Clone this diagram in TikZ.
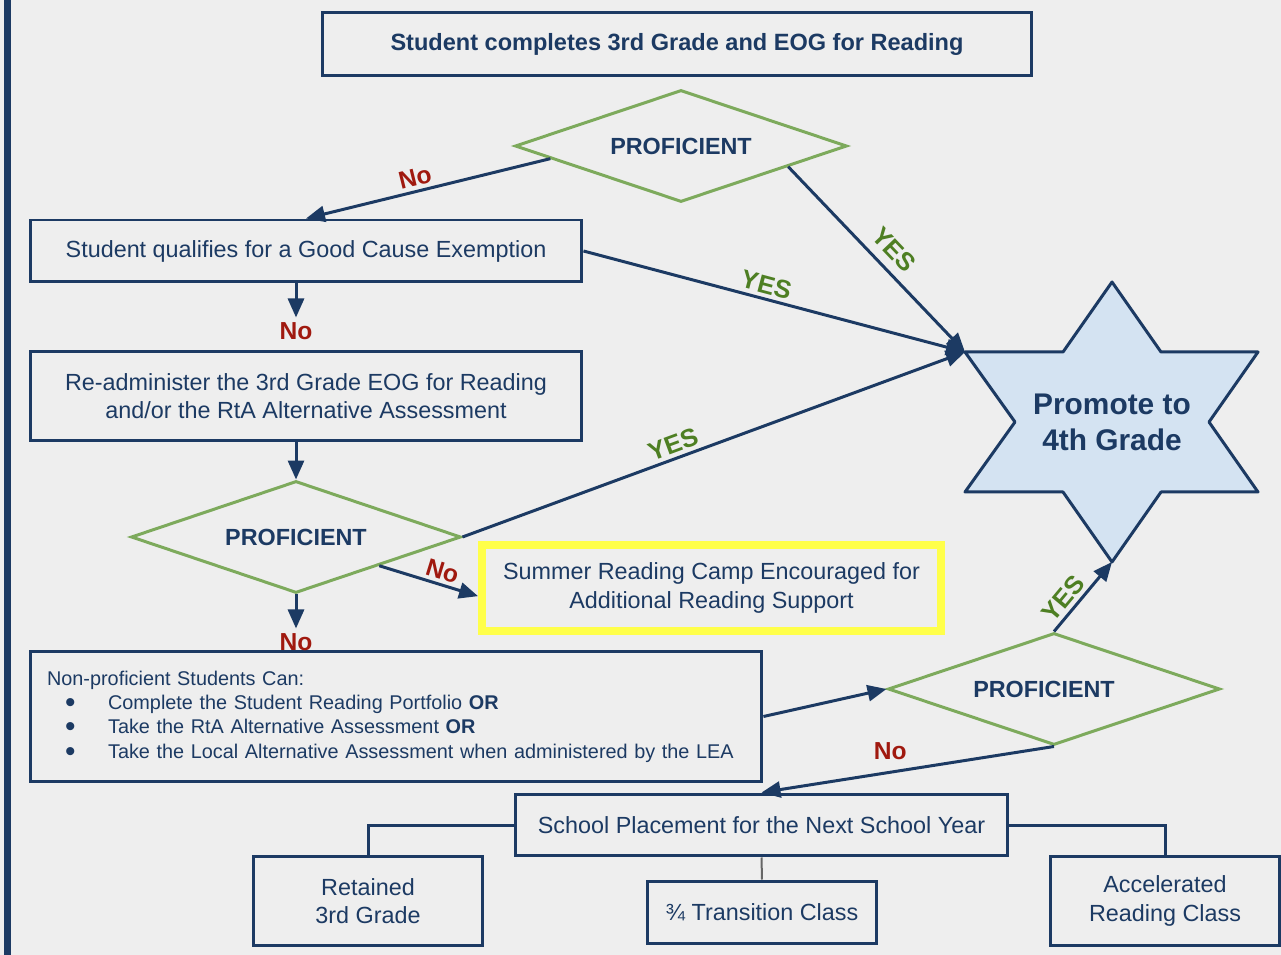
\documentclass[tikz,border=0pt]{standalone}
\usepackage{fontspec}
\setmainfont{Liberation Sans}
\usetikzlibrary{shapes.geometric, arrows.meta, positioning, calc}
\definecolor{pagebg}{HTML}{EEEEEE}
\definecolor{gsnavy}{HTML}{1C3A63}
\definecolor{gsgreen}{HTML}{7DAA5C}
\definecolor{yesgreen}{HTML}{4E7F23}
\definecolor{nored}{HTML}{A0190F}
\definecolor{starfill}{HTML}{D4E3F2}
\definecolor{campyellow}{HTML}{FFFF4A}
\definecolor{linkgray}{HTML}{666666}
\newcommand{\boxfont}{\fontsize{13.3}{16}\selectfont}
\newcommand{\npitem}[1]{\hspace*{0.36cm}\makebox[0.86cm][l]{\raisebox{-0.3ex}{\fontsize{17}{13.9}\selectfont\textbullet}}#1}
\tikzset{
  flowbox/.style={draw=gsnavy, line width=0.06cm, text=gsnavy, font=\boxfont, align=center, inner sep=0pt},
  decision/.style={diamond, aspect=3, draw=gsgreen, line width=0.06cm, text=gsnavy, font=\boxfont\bfseries,
    minimum width=6.64cm, minimum height=2.24cm, inner sep=0pt},
  flowarrow/.style={draw=gsnavy, line width=0.06cm, -{Triangle[length=0.38cm,width=0.32cm]}},
  connector/.style={draw=gsnavy, line width=0.06cm},
  nolabel/.style={text=nored, font=\fontsize{14}{16}\selectfont\bfseries, inner sep=2pt},
  yeslabel/.style={text=yesgreen, font=\fontsize{14.5}{16}\selectfont\bfseries, inner sep=2pt}
}
\begin{document}
\begin{tikzpicture}[x=0.02cm, y=-0.02cm]
\useasboundingbox (0,0) rectangle (1281,955);
\fill[pagebg] (0,0) rectangle (1281,955);
\fill[gsnavy] (4,0) rectangle (11,955);

% promote star
\draw[connector, fill=starfill, line join=round] (1112,282) -- (1161,352) -- (1258,352) -- (1209,422)
  -- (1258,492) -- (1161,492) -- (1112,562) -- (1063,492) -- (965,492) -- (1015,422)
  -- (965,352) -- (1063,352) -- cycle;
\coordinate (starUL) at (965,352);
\coordinate (starS) at (1112,562);
\node[text=gsnavy, font=\fontsize{17}{20.4}\selectfont\bfseries, align=center] (promote) at (1112,422) {Promote to\\4th Grade};

% boxes and decisions
\node[flowbox, font=\fontsize{13.4}{16}\selectfont\bfseries, minimum width=14.2cm, minimum height=1.26cm] (title) at (677,44.5) {Student completes 3rd Grade and EOG for Reading};
\node[decision] (d1) at (681,146) {PROFICIENT};
\node[flowbox, minimum width=11.04cm, minimum height=1.24cm] (gce) at (306,251) {Student qualifies for a Good Cause Exemption};
\node[flowbox, minimum width=11.04cm, minimum height=1.8cm] (readmin) at (306,396) {Re-administer the 3rd Grade EOG for Reading\\and/or the RtA Alternative Assessment};
\node[decision, minimum width=6.6cm] (d2) at (296,537) {PROFICIENT};
\node[draw=campyellow, line width=0.16cm, text=gsnavy, font=\boxfont, align=center, inner sep=0pt,
  minimum width=9.18cm, minimum height=1.72cm] (summer) at (711.5,588) {Summer Reading Camp Encouraged for\\Additional Reading Support};
\node[flowbox, align=left, font=\fontsize{11.3}{13.9}\selectfont, minimum width=14.64cm, minimum height=2.62cm,
  text width=13.96cm] (nonprof) at (396,716.5) {Non-proficient Students Can:\\
  \npitem{Complete the Student Reading Portfolio \textbf{OR}}\\
  \npitem{Take the RtA Alternative Assessment \textbf{OR}}\\
  \npitem{Take the Local Alternative Assessment when administered by the LEA}};
\node[decision] (d3) at (1054,689) {\hspace*{-0.4cm}PROFICIENT};
\node[flowbox, minimum width=9.86cm, minimum height=1.24cm] (sp) at (761.5,825) {School Placement for the Next School Year};
\node[flowbox, minimum width=4.6cm, minimum height=1.8cm] (retained) at (368,901) {Retained\\3rd Grade};
\node[flowbox, minimum width=4.6cm, minimum height=1.26cm] (trans) at (762,912.5) {¾ Transition Class};
\node[flowbox, minimum width=4.6cm, minimum height=1.8cm] (accel) at (1165,901) {Accelerated\\Reading Class};

% arrows
\draw[flowarrow] ($(d1.west)!0.22!(d1.south)$) -- node[nolabel, sloped, above, pos=0.54] {No} (gce.north);
\draw[flowarrow] ($(d1.east)!0.36!(d1.south)$) -- node[yeslabel, sloped, above=3pt, pos=0.52] {YES} (starUL);
\draw[flowarrow] (gce.east) -- node[yeslabel, sloped, above, pos=0.47] {YES} (starUL);
\draw[flowarrow] (gce.south -| d2.north) -- ++(0,34) node[nolabel, below] {No};
\draw[flowarrow] (readmin.south -| d2.north) -- (d2.north);
\draw[flowarrow] (d2.east) -- node[yeslabel, sloped, above, pos=0.43] {YES} (starUL);
\draw[flowarrow] (d2.south east) -- node[nolabel, sloped, above, pos=0.6] {No} (summer.182);
\draw[flowarrow] (d2.south) -- ++(0,34) node[nolabel, below=0pt] {No};
\draw[flowarrow] (nonprof.east) -- (d3.west);
\draw[flowarrow] (d3.north) -- node[yeslabel, sloped, above, pos=0.35] {YES} (starS);
\draw[flowarrow] (d3.south) -- node[nolabel, above=4pt, pos=0.56] {No} (sp.north);

% placement links
\draw[connector] (sp.west) -| (retained.north);
\draw[connector] (sp.east) -| (accel.north);
\draw[draw=linkgray, line width=0.04cm] (sp.south) -- (trans.north);
\end{tikzpicture}
\end{document}
